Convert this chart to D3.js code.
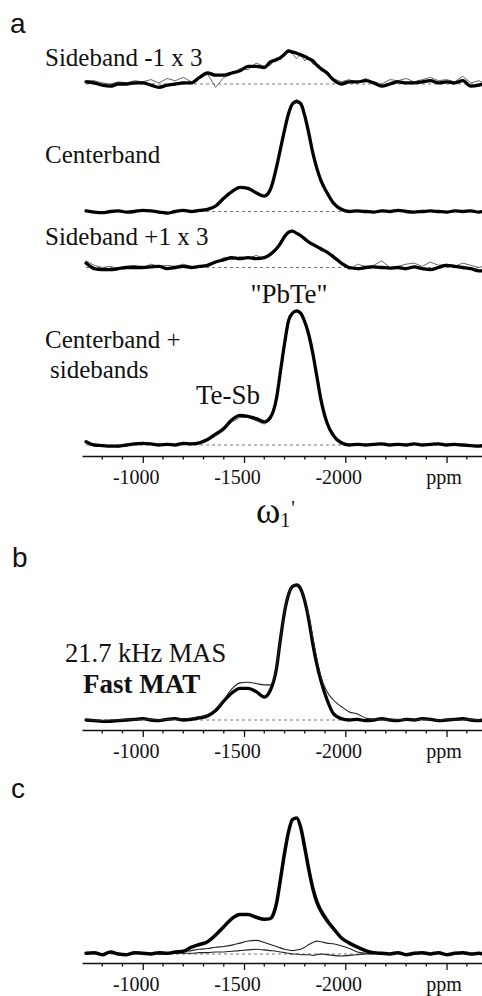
<!DOCTYPE html>
<html>
<head>
<meta charset="utf-8">
<script src="https://cdn.jsdelivr.net/npm/d3@7"></script>
<style>
  body { margin: 0; background: #fff; }
  svg text { font-family: "Liberation Serif", "Times New Roman", serif; fill: #111; }
  .letter { font-family: "Liberation Sans", Arial, sans-serif !important; font-size: 28px; }
  .lbl { font-size: 25px; }
  .axis path, .axis line { stroke: #111; stroke-width: 1.3px; }
</style>
</head>
<body>
<svg id="chart" width="482" height="996"></svg>
<script>
// chemical shift grid (ppm) shared by all traces
const ppm = [-720,-760,-800,-840,-880,-920,-960,-1000,-1040,-1080,
  -1120,-1160,-1200,-1240,-1280,-1320,-1360,-1400,-1440,-1480,
  -1520,-1560,-1600,-1630,-1660,-1680,-1700,-1720,-1740,-1760,
  -1780,-1800,-1820,-1840,-1860,-1880,-1910,-1940,-1980,-2020,
  -2060,-2100,-2140,-2180,-2220,-2260,-2300,-2340,-2380,-2420,
  -2460,-2500,-2540,-2580,-2620,-2660,-2680];

// panel a: sideband -1 (x3)
const sbMinusThick = [2,1,-1,-2,0,0,1,1,-1,-3,
  -1,0,1,1,6,10,8,8,10,12,
  16,16,15,20,22,24,27,30,29,28,
  26.5,25,23,21,17,14,10,4,0,2,
  2,3,1,-2,0,2,1,1,2,3,
  1,2,1,3,-2,-1,0];
const sbMinusThin = [3,3,1,0,2,1,3,2,4,1,
  5,3,6,2,5,9,-3,6,9,14,
  13,19,16,17,24,22,28,31,27,23,
  27,21,24,18,18,12,11,5,2,4,
  1,5,2,0,4,3,5,2,4,6,
  3,4,2,7,1,3,1];

// panel a: centerband
const centerThick = [0.5,-0.5,-1,0,0.5,-0.5,0,1,0.5,-0.5,
  -1.5,0,1,0,1,2,5,12,18,22,
  21,17,14,20,40,57,74,89,98,100,
  98,87,71,53,39,28,17,8,2,0,
  0.5,0,-0.5,0.5,0,1,0,-0.5,0,0.5,
  0,-0.5,0.5,0,0.5,-0.5,0];
const centerThin = [1,0,-0.5,0.5,1,0,0.5,1.5,0,0,
  -1,0.5,1.5,0.5,1.5,2.5,4.5,11,18.5,22.5,
  20,17.5,13.5,19,41,58,75,90,99,102,
  97,86,70,54,38,27,16,7.5,1.5,0.5,
  0,0.5,0,1,0.5,0.5,0.5,0,0.5,0,
  0.5,0,1,0.5,0,0,0.5];

// panel a: sideband +1 (x3)
const sbPlusThick = [4,-1,-2,-2,-1,0,0,0,0.5,1,
  -1,0,1,0,1,2,5,7,9,8,
  9,8,9,12,17,22,28,32,33,31,
  29,26,23,21,19,17,14,10,4,0,
  -1,0,0.5,0,-0.5,0,-1,0.5,-1,-2,
  0,2,1,0,-1,-3,-3];
const sbPlusThin = [6,2,0,1,-1,1,2,0,3,1,
  2,1,3,1,0,3,4,9,7,10,
  8,11,8,13,16,24,30,31,34,30,
  30,25,24,20,20,15,15,8,4,-2,
  3,1,2,6,0,1,3,4,1,5,
  2,3,1,4,2,0,1];

// panel a: centerband + sidebands
const sumThick = [3,0,-0.5,-1,-1,0,1,1.5,1,0,
  0.5,0,1.5,1,2,5,10,15,23,27,
  26,24,21,25,42,67,92,113,120,122,
  120,112,100,83,62,41,20,9,2,0,
  0.5,0,0.5,1,0,0.5,0,1,0,0.5,
  1,0,0.5,0,-0.5,-1,-0.5];
const sumThin = [3.5,0.5,0,-0.5,-2,0.5,1.5,1,1.5,0.5,
  0,0.5,1,1.5,1.5,4,8,13,21,25,
  25,22,19,23,44,69,94,114,121,121,
  118,110,98,80,61,40,20,9,2.5,0.5,
  1,0.5,1,0.5,0.5,1,0.5,1.5,0.5,1,
  0.5,0.5,1,0.5,0,-0.5,0];

// panel b: Fast MAT (thick) and 21.7 kHz MAS (thin)
const matThick = [0,-0.5,-1,-1,-0.5,0,0.5,1,0,-0.5,
  0.5,1,0,0.5,1.5,3,7,14,20,23.5,
  23.5,21,17,22,38,60,80,93,99,100,
  97,88,74,56,41,29,15,5,1,0,
  0.5,-0.5,0,1,0,-0.5,0.5,0,1,0.5,
  -0.5,0,0.5,1,0,-0.5,0];
const masThin = [0,0,-0.5,0,0,0.5,0,0.5,0.5,0,
  0.5,0.5,1,1.5,2.5,4,8,15,23,27.5,
  28,27,26,26,39,60,80,93,99,100,
  97,89,77,61,45,32,21,15,10,6,
  4.5,1.5,0.5,0,0,0.5,0,0,0.5,0,
  0,0.5,0,0,0.5,0,0];

// panel c: total (thick + gray) and two thin components
const cThick = [0.5,1,-0.5,1.5,0,-0.5,1,0.5,0,1,
  0.5,1.5,2,5,7,9,14,20,26,29,
  29,27,25.5,26,37,55,74,90,99,100,
  93,78,62,48,38,31.5,24.5,19,12,8,
  5,2.5,1,0.5,0,1,-0.5,0.5,1,0,
  1,-0.5,0.5,1,0,0.5,0];
const cThin = [1,0.5,0,1,0.5,0,0.5,1,0.5,0.5,
  1,1,2.5,4.5,6.5,9.5,13.5,20,25.5,28.5,
  29,27.5,25,26.5,38,56,75,91,99,99.5,
  94,80,65,51,41,34,27,19.5,12.5,7.5,
  4.5,2,1.5,0,0.5,0.5,0,1,0.5,0.5,
  0.5,0,1,0.5,0.5,0,0.5];
const cComp1 = [null,null,null,null,null,null,null,null,null,0,
  0.5,1,1.5,2.5,3.5,4,5,5.5,6.5,8,
  9.5,10,8.5,7,5.5,4.5,3.5,3,2.5,3,
  3.5,5,7,8.5,9.5,9,8,7.5,6,4,
  1.5,0.5,0,null,null,null,null,null,null,null,
  null,null,null,null,null,null,null];
const cComp2 = [null,null,null,null,null,null,null,null,null,0,
  0,0.5,0.5,0.5,1,1,1.5,1.5,2,2.5,
  3,3.5,3,2.5,2,1.5,1,0.5,0,0,
  -0.5,-0.5,-0.5,-1,-0.5,0,-0.5,-1,-1.5,-1,
  -0.5,0,0,null,null,null,null,null,null,null,
  null,null,null,null,null,null,null];

// axis ticks
const majorTicks = [-1000, -1500, -2000, -2500];
const tickLabels = ["-1000", "-1500", "-2000", "ppm"];
const minorTicks = [-800,-900,-1100,-1200,-1300,-1400,-1600,-1700,-1800,-1900,-2100,-2200,-2300,-2400,-2600];

const svg = d3.select("#chart");

const x = d3.scaleLinear().domain([-700, -2680]).range([82, 483]);

// one y scale per trace: baseline position and px per 100 units
function yScale(base, h) {
  return d3.scaleLinear().domain([0, 100]).range([base, base - h]);
}

function drawBaseline(base) {
  svg.append("line")
    .attr("x1", x(-720)).attr("x2", 482)
    .attr("y1", base).attr("y2", base)
    .attr("stroke", "#777")
    .attr("stroke-width", 1)
    .attr("stroke-dasharray", "3,3");
}

function drawTrace(values, y, color, w, curve) {
  const line = d3.line()
    .defined(d => d[1] != null)
    .x(d => x(d[0]))
    .y(d => y(d[1]))
    .curve(curve || d3.curveMonotoneX);
  svg.append("path")
    .datum(ppm.map((p, i) => [p, values[i]]))
    .attr("d", line)
    .attr("fill", "none")
    .attr("stroke", color)
    .attr("stroke-width", w)
    .attr("stroke-linejoin", "round")
    .attr("stroke-linecap", "round");
}

function drawAxis(yPos) {
  const g = svg.append("g")
    .attr("class", "axis")
    .attr("transform", `translate(0,${yPos})`)
    .call(d3.axisBottom(x)
      .tickValues(majorTicks)
      .tickSize(7)
      .tickSizeOuter(0)
      .tickPadding(7)
      .tickFormat((d, i) => tickLabels[i]));
  g.selectAll(".tick text")
    .style("font-family", "'Liberation Serif', 'Times New Roman', serif")
    .style("font-size", "20px")
    .attr("fill", "#111")
    .attr("dx", (d, i) => i < 3 ? -7 : -3);
  g.selectAll(".minor")
    .data(minorTicks)
    .enter().append("line")
    .attr("class", "minor")
    .attr("x1", d => x(d)).attr("x2", d => x(d))
    .attr("y1", 0).attr("y2", 3.5);
}

// ---- panel a ----
const aH = 110; // px per 100 units in panel a
const traces = [
  { base: 84, thick: sbMinusThick, thin: sbMinusThin },
  { base: 211.5, thick: centerThick, thin: centerThin },
  { base: 267.5, thick: sbPlusThick, thin: sbPlusThin },
  { base: 445, thick: sumThick, thin: sumThin }
];
traces.forEach(t => {
  const y = yScale(t.base, aH);
  drawBaseline(t.base);
  drawTrace(t.thin, y, "#666", 1, d3.curveLinear);
  drawTrace(t.thick, y, "#000", 3.3);
});
drawAxis(456);

// ---- panel b ----
const yb = yScale(720, 135);
drawBaseline(720);
drawTrace(matThick, yb, "#000", 3.3);
drawTrace(masThin, yb, "#222", 1.1);
drawAxis(730);

// ---- panel c ----
const yc = yScale(954, 136);
drawBaseline(954);
drawTrace(cComp1, yc, "#222", 1.1);
drawTrace(cComp2, yc, "#222", 1.1);
drawTrace(cThin, yc, "#777", 1, d3.curveLinear);
drawTrace(cThick, yc, "#000", 3.5);
drawAxis(963);

// ---- text ----
svg.append("text").attr("class", "letter").attr("x", 10).attr("y", 33).text("a");
svg.append("text").attr("class", "letter").attr("x", 12).attr("y", 567).text("b");
svg.append("text").attr("class", "letter").attr("x", 11).attr("y", 798).text("c");

const labels = [
  { t: "Sideband -1 x 3", x: 45, y: 66, s: 25 },
  { t: "Centerband", x: 45, y: 163, s: 25 },
  { t: "Sideband +1 x 3", x: 45, y: 245, s: 25 },
  { t: "Centerband +", x: 45, y: 348, s: 25 },
  { t: "sidebands", x: 50, y: 378, s: 25 },
  { t: "Te-Sb", x: 196, y: 404, s: 27 },
  { t: "\"PbTe\"", x: 289, y: 303, s: 27, anchor: "middle" },
  { t: "21.7 kHz MAS", x: 65, y: 662, s: 26.5 }
];
svg.selectAll(".lbl")
  .data(labels)
  .enter().append("text")
  .attr("class", "lbl")
  .attr("x", d => d.x).attr("y", d => d.y)
  .attr("text-anchor", d => d.anchor || "start")
  .style("font-size", d => d.s + "px")
  .text(d => d.t);

svg.append("text").attr("x", 83).attr("y", 693)
  .style("font-size", "27px")
  .style("font-weight", "bold").text("Fast MAT");

// omega axis title
const om = svg.append("text").attr("x", 256).attr("y", 523);
om.append("tspan").style("font-size", "37px").text("ω");
om.append("tspan").style("font-size", "20px").attr("dy", 4).text("1");
om.append("tspan").style("font-size", "20px").attr("dy", -12).attr("dx", 1).text("'");
</script>
</body>
</html>
